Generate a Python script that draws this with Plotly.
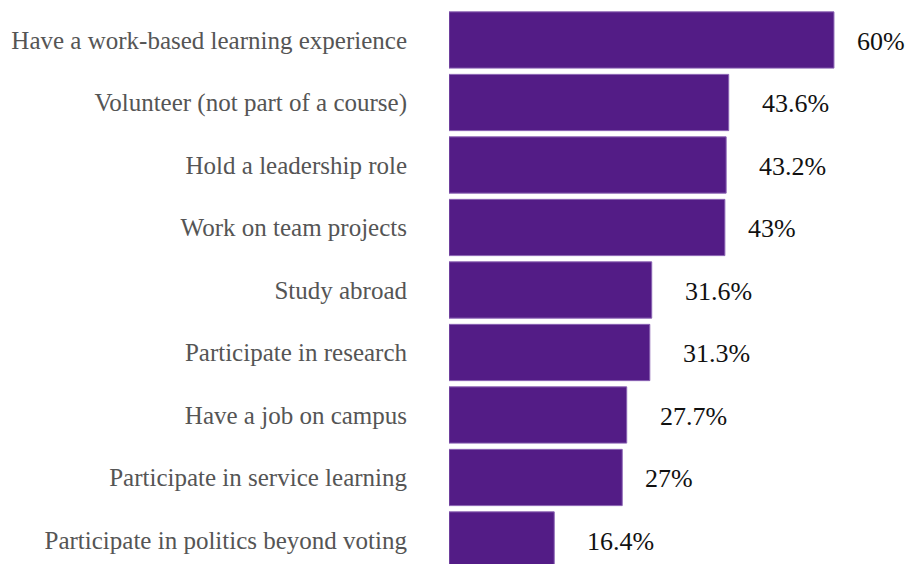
import plotly.graph_objects as go

categories = [
    "Have a work-based learning experience",
    "Volunteer (not part of a course)",
    "Hold a leadership role",
    "Work on team projects",
    "Study abroad",
    "Participate in research",
    "Have a job on campus",
    "Participate in service learning",
    "Participate in politics beyond voting",
]
values = [60, 43.6, 43.2, 43, 31.6, 31.3, 27.7, 27, 16.4]
value_labels = ["60%", "43.6%", "43.2%", "43%", "31.6%", "31.3%", "27.7%", "27%", "16.4%"]

BAR_COLOR = "#531c86"
FONT = "'Times New Roman', 'Liberation Serif', serif"

fig = go.Figure()
fig.add_trace(go.Bar(
    x=values,
    y=categories,
    orientation="h",
    marker=dict(color=BAR_COLOR, line=dict(color="#8a63b3", width=1)),
    hoverinfo="skip",
))

for cat, v, lab in zip(categories, values, value_labels):
    fig.add_annotation(
        x=v, y=cat, text=lab, showarrow=False,
        xanchor="left", yanchor="middle",
        xshift=31 if "." in lab else 21,
        yshift=-1,
        font=dict(family=FONT, size=26, color="#111111"),
    )

fig.update_layout(
    width=909, height=564,
    margin=dict(l=449, r=0, t=0, b=0),
    paper_bgcolor="white", plot_bgcolor="white",
    bargap=0.1,
    showlegend=False,
    font=dict(family=FONT),
)
fig.update_xaxes(range=[0, 71.7], visible=False, showgrid=False, zeroline=False)
fig.update_yaxes(
    type="category",
    range=[8.384, -0.64],
    showgrid=False, zeroline=False, showline=False,
    ticks="", ticklabelstandoff=41,
    tickfont=dict(family=FONT, size=25, color="#555555"),
)

fig.write_html("out.html")
